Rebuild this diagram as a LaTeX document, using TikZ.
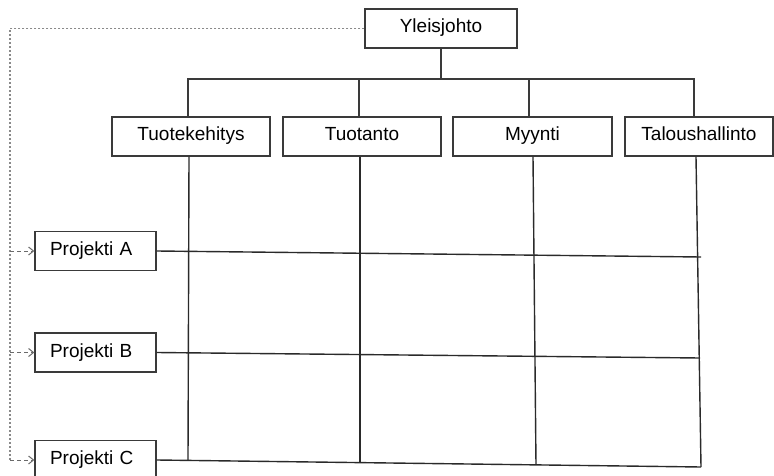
\documentclass[tikz,border=0pt]{standalone}
\usepackage{fontspec}
\setmainfont{Liberation Sans}
\usetikzlibrary{arrows.meta}
\definecolor{boxline}{HTML}{3A3A3A}
\definecolor{gridline}{HTML}{2A2A2A}
\definecolor{dotline}{HTML}{8A8A8A}
\definecolor{arrowline}{HTML}{6A6A6A}
\tikzset{
  unit/.style={draw=boxline, line width=1.3pt, fill=white, inner sep=0pt,
    font=\fontsize{19}{22}\selectfont, minimum height=39pt,
    text height=14pt, text depth=5pt},
  dept/.style={unit},
  proj/.style={unit, text width=91pt, align=left},
  orgline/.style={draw=boxline, line width=1.3pt},
  gridrule/.style={draw=gridline, line width=1.4pt},
  dotrule/.style={draw=dotline, line width=1.1pt, dash pattern=on 2pt off 2pt},
  projarrow/.style={draw=arrowline, line width=1pt, dash pattern=on 4pt off 3pt,
    -{Straight Barb[length=5pt, width=8pt, line width=1pt]}}
}
\begin{document}
\begin{tikzpicture}[x=1pt, y=-1pt]
  \useasboundingbox (0,0) rectangle (774,476);

  % management and departments
  \node[unit, minimum width=152pt] (top) at (441,28.5) {Yleisjohto};
  \node[dept, minimum width=158pt] (rd)  at (191,136.5) {Tuotekehitys};
  \node[dept, minimum width=158pt] (prod) at (362,136.5) {Tuotanto};
  \node[dept, minimum width=159pt] (sales) at (532.5,136.5) {Myynti};
  \node[dept, minimum width=148pt] (fin) at (699,136.5) {Taloushallinto};

  % projects
  \node[proj, minimum width=121pt] (pa) at (95.5,251) {Projekti A};
  \node[proj, minimum width=121pt] (pb) at (95.5,352.5) {Projekti B};
  \node[proj, minimum width=121pt] (pc) at (95.5,460) {Projekti C};

  % tree from management to departments
  \coordinate (bar) at (441,79);
  \draw[orgline] (top.south) -- (bar);
  \draw[orgline] ([xshift=-3pt]rd.north) |- (bar);
  \draw[orgline] ([xshift=-3pt]prod.north) |- (bar);
  \draw[orgline] ([xshift=-3.5pt]sales.north) |- (bar);
  \draw[orgline] ([xshift=-5pt]fin.north) |- (bar);

  % matrix grid
  \coordinate (endA) at (701,257);
  \coordinate (endB) at (700,358);
  \coordinate (endC) at (701,467);
  \coordinate (c1) at (188,460.4);
  \coordinate (c2) at (360,462.6);
  \coordinate (c3) at (536,464.9);
  \coordinate (c4) at (701,467);
  \draw[gridrule] ([xshift=-2pt]rd.south) -- (c1);
  \draw[gridrule] ([xshift=-2pt]prod.south) -- (c2);
  \draw[gridrule] ([xshift=0.5pt]sales.south) -- (c3);
  \draw[gridrule] ([xshift=-3pt]fin.south) -- (c4);
  \draw[gridrule] (pa.east) -- (endA);
  \draw[gridrule] (pb.east) -- (endB);
  \draw[gridrule] (pc.east) -- (endC);

  % dotted line of authority to projects
  \coordinate (trunk) at (10,28.5);
  \coordinate (trunkEnd) at (10,460);
  \draw[dotrule] (top.west) -- (trunk) -- (trunkEnd);
  \draw[projarrow] (trunk |- pa.west) -- (pa.west);
  \draw[projarrow] (trunk |- pb.west) -- (pb.west);
  \draw[projarrow] (trunk |- pc.west) -- (pc.west);
\end{tikzpicture}
\end{document}
